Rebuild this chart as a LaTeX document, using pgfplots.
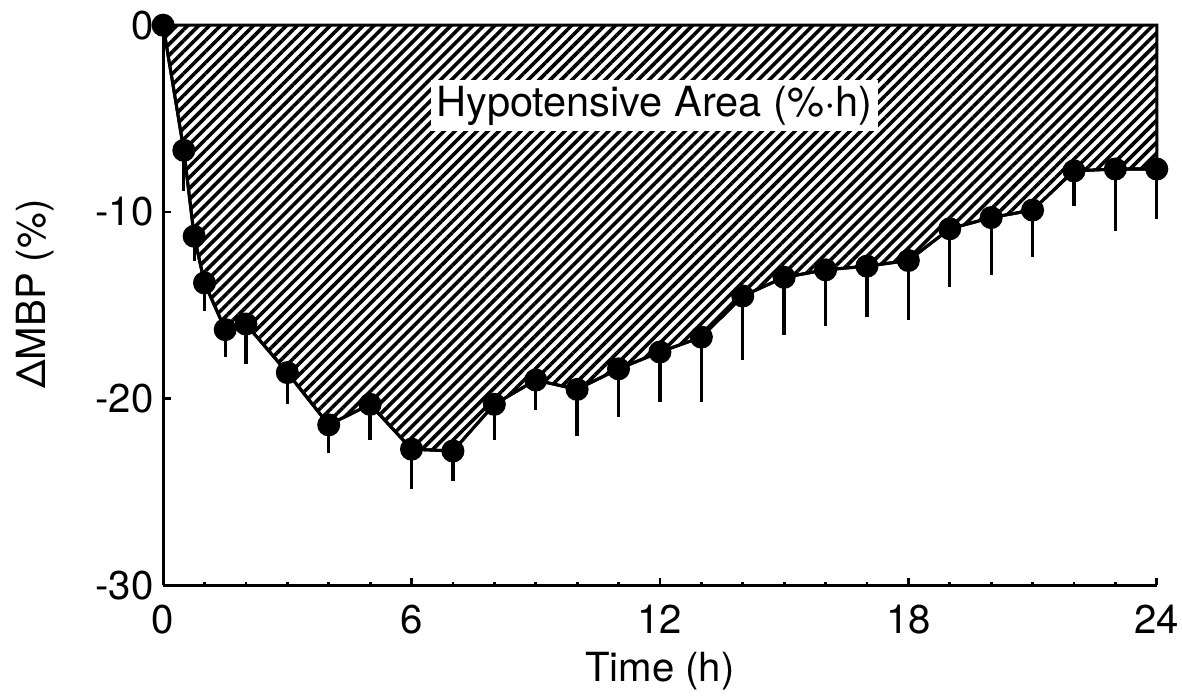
\documentclass[border=0pt]{standalone}
\usepackage{fontspec}
\setmainfont{TeX Gyre Heros}
\usepackage{pgfplots}
\usepackage{pgfplotstable}
\pgfplotsset{compat=1.18}
\usetikzlibrary{patterns.meta}

\pgfplotstableread{
t y e
0 0 0
0.5 -6.7 2.2
0.75 -11.3 1.35
1.0 -13.8 1.5
1.5 -16.3 1.45
2 -16.0 2.15
3 -18.6 1.7
4 -21.4 1.5
5 -20.3 1.9
6 -22.7 2.15
7 -22.8 1.6
8 -20.3 1.9
9 -19.0 1.6
10 -19.5 2.5
11 -18.4 2.6
12 -17.5 2.7
13 -16.7 3.5
14 -14.5 3.4
15 -13.5 3.1
16 -13.1 3.0
17 -12.9 2.75
18 -12.6 3.2
19 -10.9 3.1
20 -10.3 3.1
21 -9.9 2.5
22 -7.8 1.9
23 -7.7 3.3
24 -7.7 2.7
}\data

\begin{document}
\begin{tikzpicture}
\begin{axis}[
  name=ax,
  scale only axis,
  width=12.61cm, height=7.11cm,
  xmin=0, xmax=24, ymin=-30, ymax=0,
  clip=false,
  axis lines=left,
  axis line style={-, line width=1.1pt},
  xtick={0,6,...,24},
  ytick={-30,-20,-10,0},
  minor x tick num=5,
  tick align=inside,
  major tick length=0.1cm,
  minor tick length=0.05cm,
  tick style={line width=1.0pt, black},
  /pgf/number format/assume math mode=true,
  tick label style={font=\fontsize{14.5}{16}\selectfont},
  xticklabel style={yshift=-0.12cm},
  xlabel={Time (h)},
  ylabel={ΔMBP (\%)},
  every axis x label/.style={at={(axis description cs:0.5,-0.152)}, anchor=center, font=\fontsize{14.5}{16}\selectfont},
  every axis y label/.style={at={(axis description cs:-0.1285,0.52)}, rotate=90, anchor=center, font=\fontsize{14.5}{16}\selectfont},
]
\addplot[draw=black, line width=1.1pt, pattern={Lines[angle=45,distance=2.8pt,line width=1.3pt]}, pattern color=black]
  table[x=t,y=y]{\data} \closedcycle;
\node[fill=white, anchor=west, inner xsep=2pt, inner ysep=2pt, font=\fontsize{15}{17}\selectfont] at (axis cs:6.45,-4.3) {Hypotensive Area (\%·h)\hspace{0.3cm}};
\addplot[black, line width=1.1pt, mark=*, mark size=3.6pt, mark options={fill=black},
  error bars/.cd, y dir=minus, y explicit, error mark=none,
  error bar style={line width=1.2pt}]
  table[x=t,y=y,y error=e]{\data};
\end{axis}
\pgfresetboundingbox
\path[use as bounding box] ([xshift=-2.07cm,yshift=-1.40cm]ax.south west) rectangle ([xshift=0.32cm,yshift=0.32cm]ax.north east);
\end{tikzpicture}
\end{document}
